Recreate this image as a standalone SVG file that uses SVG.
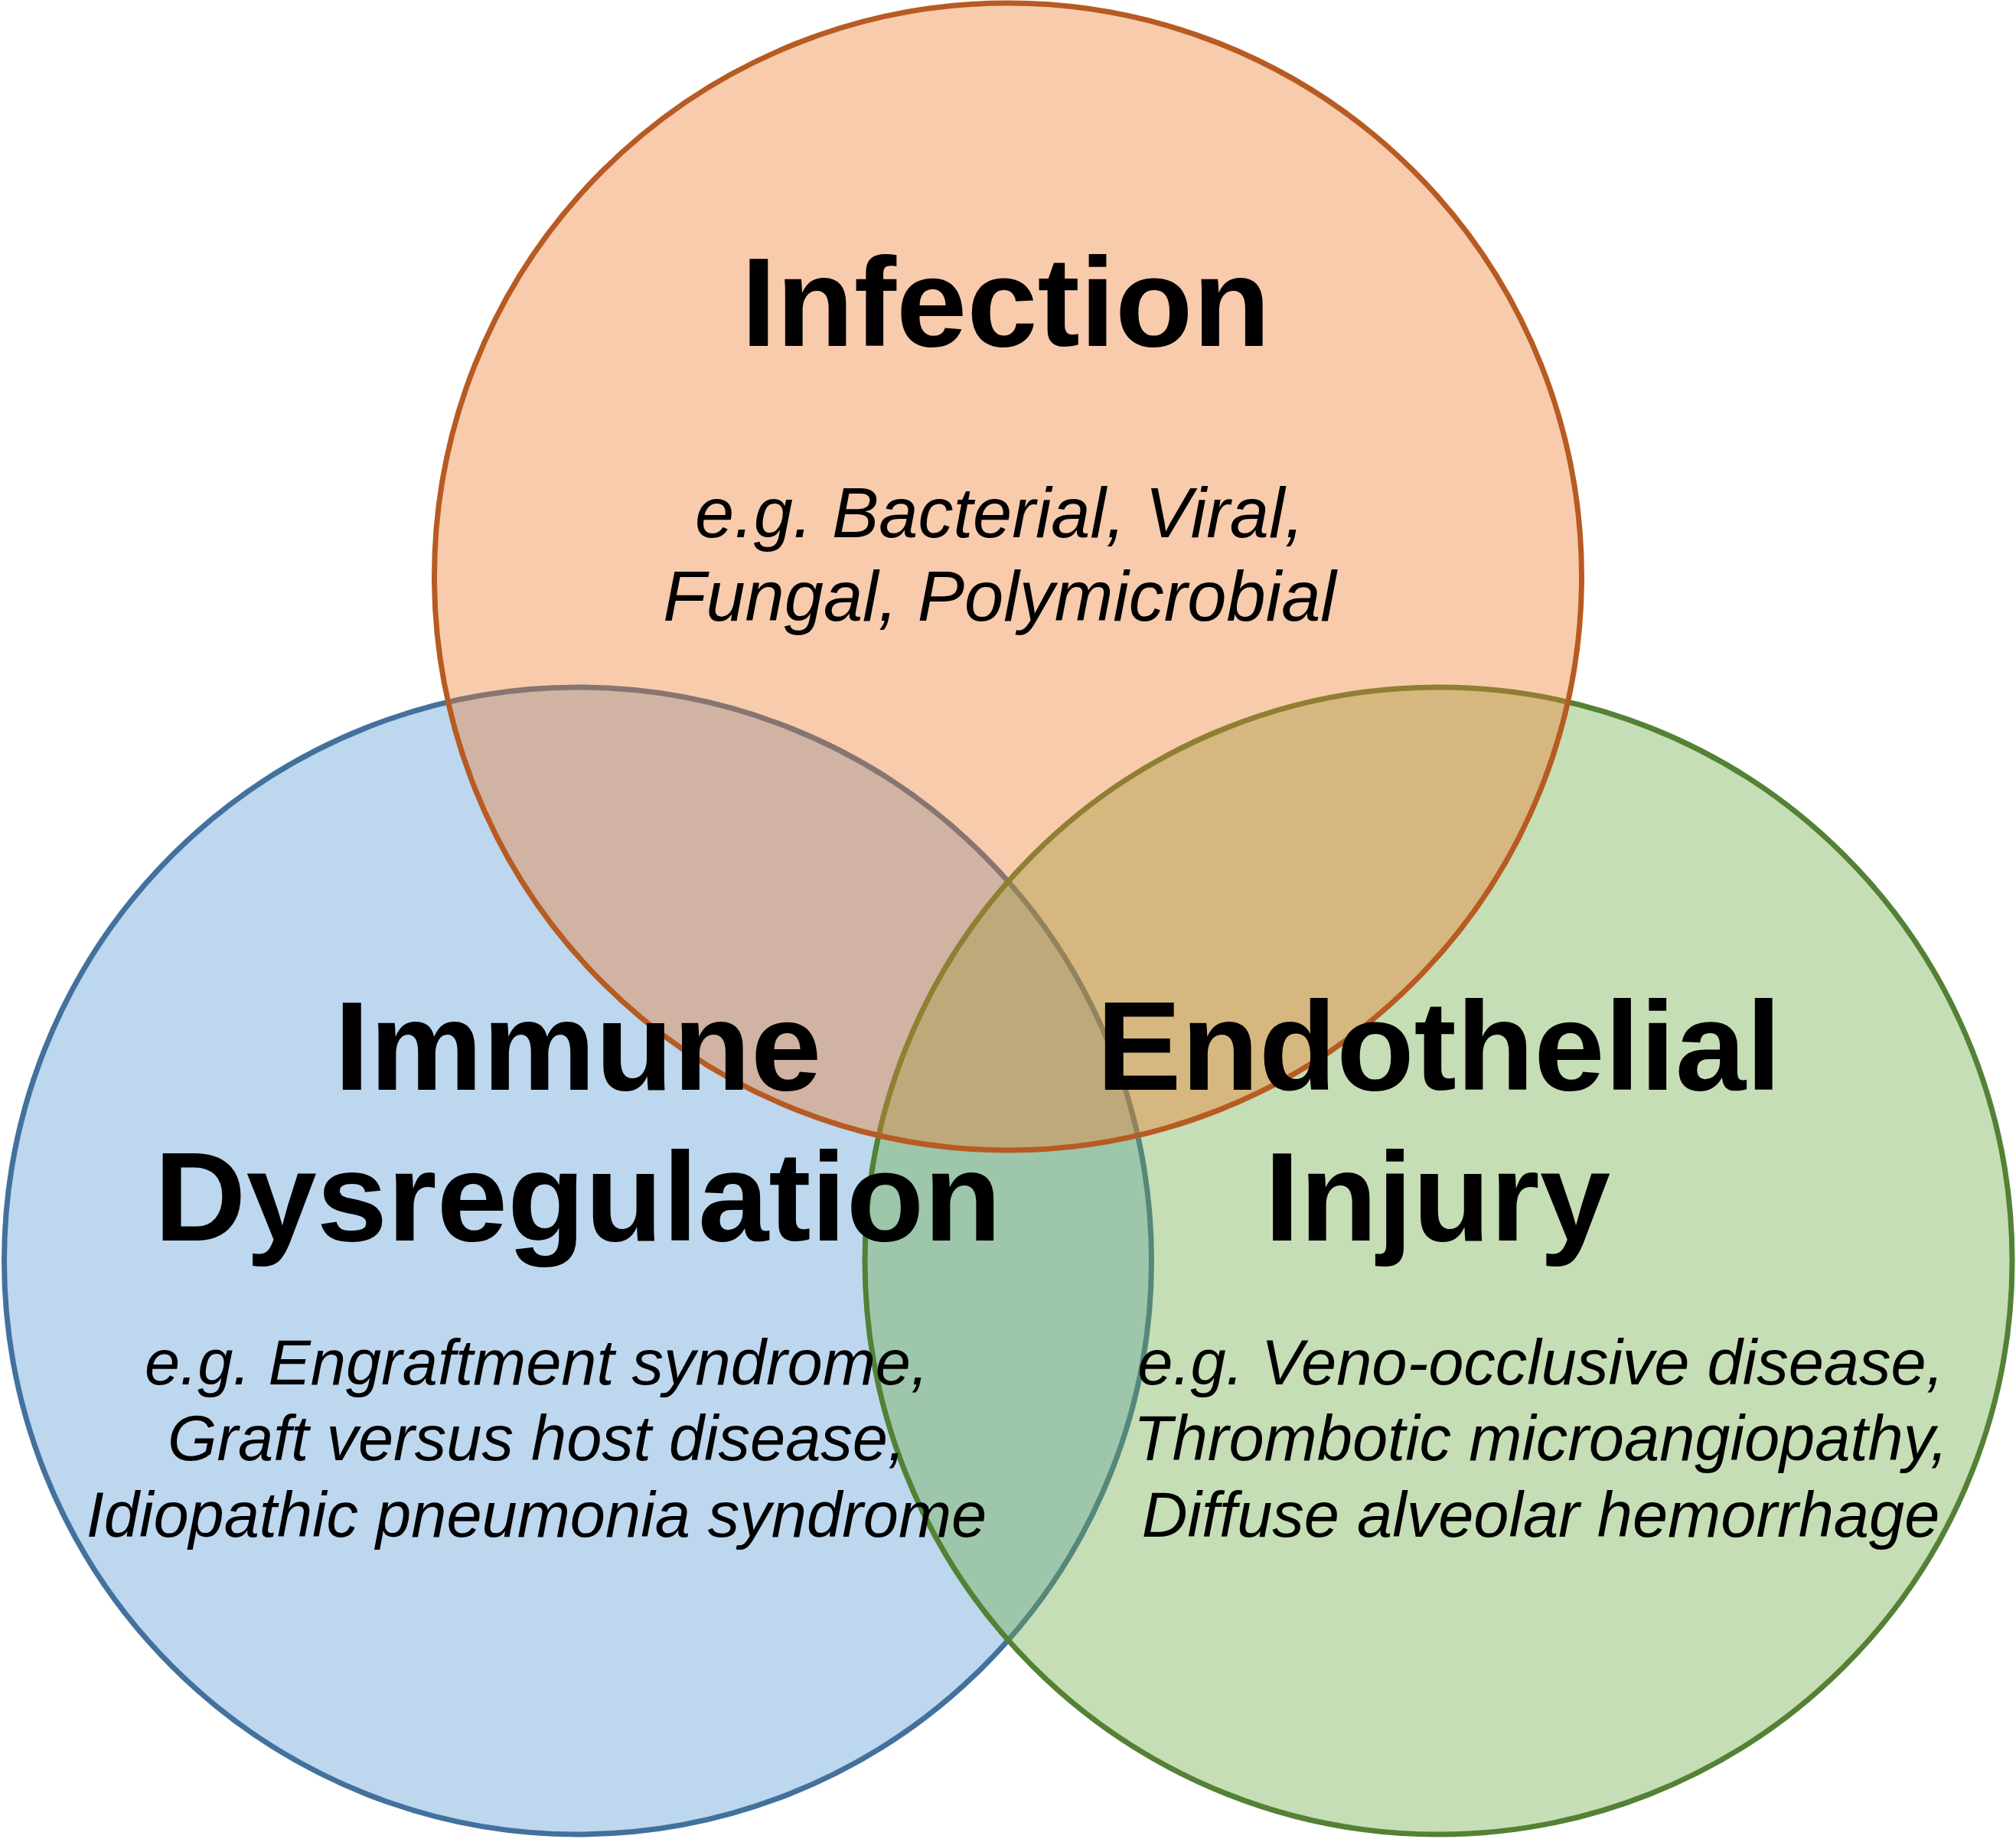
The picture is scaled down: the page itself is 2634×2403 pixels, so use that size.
<svg xmlns="http://www.w3.org/2000/svg" width="2634" height="2403" viewBox="0 0 2634 2403">
<style>
.c{stroke-width:7;fill-opacity:0.4}
.t{font-family:"Liberation Sans",Arial,sans-serif;fill:#000;text-anchor:middle}
.h{font-weight:bold;font-size:166px}
.s{font-style:italic;font-size:83px}
.si{font-style:italic;font-size:92px}
</style>
<rect width="2634" height="2403" fill="#fff"/>
<g id="immune">
<circle class="c" cx="755" cy="1647.5" r="749.5" fill="#5B9BD5" stroke="#43719D"/>
</g>
<g id="endothelial">
<circle class="c" cx="1879.5" cy="1647.5" r="749.5" fill="#70AD47" stroke="#538135"/>
</g>
<g id="infection">
<circle class="c" cx="1317" cy="753.5" r="749.5" fill="#ED7D31" stroke="#B75B22"/>
</g>
<g id="connectors"></g>
<g id="infection-label">
<text class="t h" x="1314" y="452">Infection</text>
<text class="t si" x="1306" y="702">e.g. Bacterial, Viral,</text>
<text class="t si" x="1306" y="811">Fungal, Polymicrobial</text>
</g>
<g id="immune-label">
<text class="t h" x="755" y="1424">Immune</text>
<text class="t h" x="755" y="1621">Dysregulation</text>
<text class="t s" x="701" y="1809">e.g. Engraftment syndrome,</text>
<text class="t s" x="701" y="1908">Graft versus host disease,</text>
<text class="t s" x="701" y="2008">Idiopathic pneumonia syndrome</text>
</g>
<g id="endothelial-label">
<text class="t h" x="1880" y="1424">Endothelial</text>
<text class="t h" x="1878" y="1621">Injury</text>
<text class="t s" x="2013" y="1809">e.g. Veno-occlusive disease,</text>
<text class="t s" x="2013" y="1908">Thrombotic microangiopathy,</text>
<text class="t s" x="2013" y="2008">Diffuse alveolar hemorrhage</text>
</g>
</svg>
